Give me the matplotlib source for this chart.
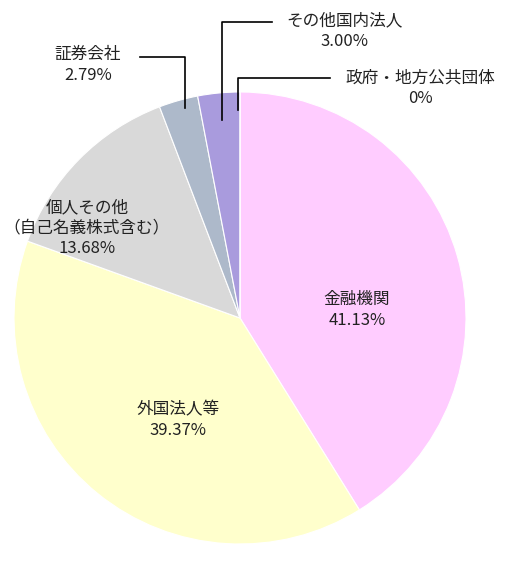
import matplotlib
matplotlib.use('Agg')
import matplotlib.pyplot as plt
from matplotlib.lines import Line2D

plt.rcParams['font.family'] = ['Noto Sans CJK JP', 'DejaVu Sans']

labels = ['金融機関', '外国法人等', '個人その他\n（自己名義株式含む）', '証券会社', 'その他国内法人', '政府・地方公共団体']
values = [41.13, 39.37, 13.68, 2.79, 3.00, 0.0]
pct_text = ['41.13%', '39.37%', '13.68%', '2.79%', '3.00%', '0%']
colors = ['#FFCCFF', '#FFFFCC', '#D9D9D9', '#ADB9CA', '#A99BDD', '#8FAADC']

W, H = 510, 573
fig = plt.figure(figsize=(W / 100, H / 100), dpi=100)

def px(x, y):
    return x / W, 1 - y / H

cx, cy, r = 240, 318, 226
ax = fig.add_axes([(cx - r) / W, (H - cy - r) / H, 2 * r / W, 2 * r / H])
ax.pie(values, colors=colors, startangle=90, counterclock=False,
       wedgeprops=dict(edgecolor='white', linewidth=0.8))
ax.set_xlim(-1, 1)
ax.set_ylim(-1, 1)
ax.set_aspect('equal')
ax.axis('off')

# label positions (pixel centres)
pos = [(357, 310), (178, 420), (87, 228), (88, 65), (344, 31), (420, 88)]
for lab, pct, (x, y) in zip(labels, pct_text, pos):
    fig.text(*px(x, y), lab + '\n' + pct, ha='center', va='center',
             fontsize=12, linespacing=1.25, color='#222222')

# leader lines
leaders = [
    [(140, 57), (185, 57), (185, 108)],
    [(272, 22), (222, 22), (222, 120)],
    [(330, 78), (238, 78), (238, 110)],
]
for pts in leaders:
    xs, ys = zip(*[px(x, y) for x, y in pts])
    fig.add_artist(Line2D(xs, ys, color='black', linewidth=1.2, transform=fig.transFigure))

fig.savefig('out.png', dpi=100)
